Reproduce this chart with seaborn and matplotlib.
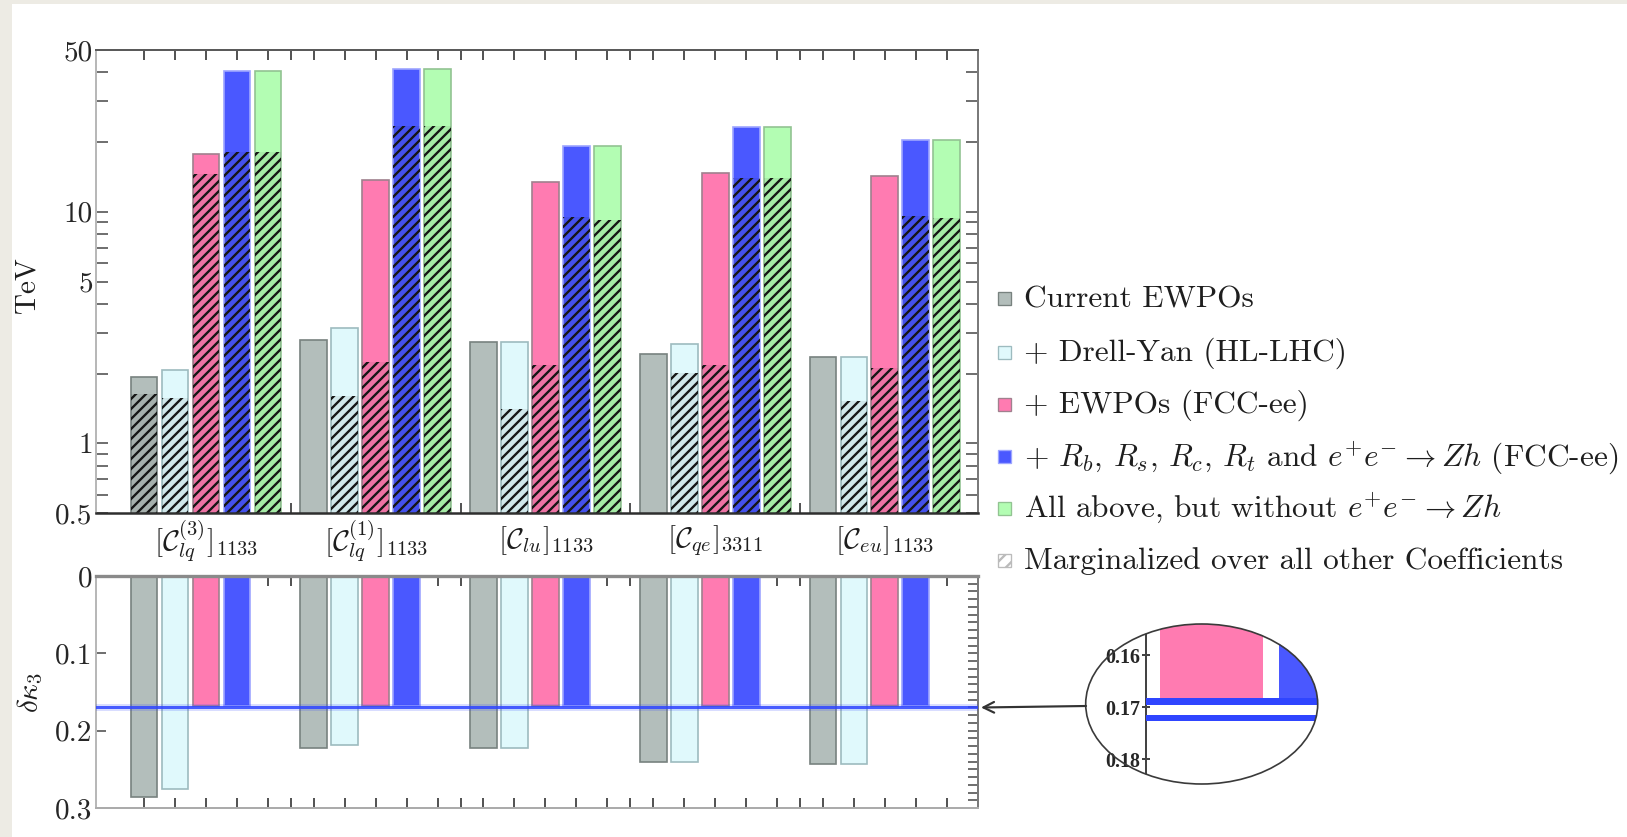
import matplotlib
matplotlib.use("Agg")
import numpy as np
import pandas as pd
import matplotlib.pyplot as plt
import matplotlib.transforms as mtransforms
from matplotlib.patches import Rectangle, Ellipse, FancyArrowPatch
from matplotlib.colors import to_rgba
import seaborn as sns

# ---------------------------------------------------------------- data
coefficients = [
    r"$[\mathcal{C}_{lq}^{(3)}]_{1133}$",
    r"$[\mathcal{C}_{lq}^{(1)}]_{1133}$",
    r"$[\mathcal{C}_{lu}]_{1133}$",
    r"$[\mathcal{C}_{qe}]_{3311}$",
    r"$[\mathcal{C}_{eu}]_{1133}$",
]
scenarios = [
    "Current EWPOs",
    "+ Drell-Yan (HL-LHC)",
    "+ EWPOs (FCC-ee)",
    r"+ $R_b$, $R_s$, $R_c$, $R_t$ and $e^{+}e^{-} \rightarrow Zh$ (FCC-ee)",
    r"All above, but without $e^{+}e^{-} \rightarrow Zh$",
]
marginal_label = "Marginalized over all other Coefficients"

colors = ["#B3BEBB", "#E0F9FC", "#FF7BB1", "#4A58FF", "#B3FDB3"]
edge_colors = ["#78827F", "#9DBBBF", "#A0808E", "#9EA6FF", "#92C392"]
band_color = "#2F45FF"

# reach in TeV, single-coefficient fits
tev_current = [1.93, 2.79, 2.73, 2.43, 2.37]
tev_drell_yan = [2.07, 3.14, 2.73, 2.69, 2.37]
tev_ewpo_fcc = [17.8, 13.7, 13.4, 14.7, 14.3]
tev_rq_zh = [40.7, 41.4, 19.3, 23.3, 20.4]
tev_no_zh = [40.7, 41.4, 19.3, 23.3, 20.4]

# reach in TeV, marginalized over the other coefficients (None: not shown)
tev_current_marg = [1.63, None, None, None, None]
tev_drell_yan_marg = [1.57, 1.60, 1.41, 2.02, 1.53]
tev_ewpo_fcc_marg = [14.5, 2.25, 2.18, 2.18, 2.12]
tev_rq_zh_marg = [18.2, 23.5, 9.5, 14.0, 9.6]
tev_no_zh_marg = [18.2, 23.5, 9.2, 14.0, 9.4]

# trilinear Higgs coupling bound delta kappa_3
dk3_current = [0.286, 0.222, 0.222, 0.241, 0.243]
dk3_drell_yan = [0.276, 0.218, 0.222, 0.241, 0.243]
dk3_ewpo_fcc = [0.1683, 0.1683, 0.1683, 0.1683, 0.1683]
dk3_rq_zh = [0.1683, 0.1683, 0.1683, 0.1683, 0.1683]
dk3_band = [(0.1683, 0.1696), (0.1714, 0.1726)]

tev_ticks = [0.5, 1, 5, 10, 50]
tev_tick_labels = ["0.5", "1", "5", "10", "50"]
dk3_ticks = [0.0, 0.1, 0.2, 0.3]
dk3_tick_labels = ["0", "0.1", "0.2", "0.3"]
inset_ticks = [0.16, 0.17, 0.18]
inset_tick_labels = ["0.16", "0.17", "0.18"]


def long_table(columns):
    rows = []
    for scen, vals in zip(scenarios, columns):
        for coef, v in zip(coefficients, vals):
            if v is not None:
                rows.append((coef, scen, v))
    return pd.DataFrame(rows, columns=["coefficient", "scenario", "value"])


df_tev = long_table([tev_current, tev_drell_yan, tev_ewpo_fcc, tev_rq_zh, tev_no_zh])
df_marg = long_table([tev_current_marg, tev_drell_yan_marg, tev_ewpo_fcc_marg,
                      tev_rq_zh_marg, tev_no_zh_marg])
df_dk3 = long_table([dk3_current, dk3_drell_yan, dk3_ewpo_fcc, dk3_rq_zh])

# ---------------------------------------------------------------- style
sns.set_theme(style="white")
plt.rcParams.update({
    "font.family": ["cmr10", "DejaVu Serif"],
    "mathtext.fontset": "cm",
    "axes.formatter.use_mathtext": True,
    "axes.unicode_minus": False,
    "hatch.linewidth": 1.4,
    "text.color": "#1e1e1e",
})

FS = 17.5
FS_LEG = 18.8
W, H, DPI = 1627, 837, 120
GROUP_W, BAR_GAP = 0.913, 0.13
SLOT = GROUP_W / len(scenarios)
X_LO, X_HI = -0.648, 4.548

fig = plt.figure(figsize=(W / DPI, H / DPI), dpi=DPI)
fig.patch.set_facecolor("#EDEBE4")
fig.add_artist(Rectangle((12 / W, 0), 1 - 12 / W, 1 - 4 / H, transform=fig.transFigure,
                         facecolor="white", edgecolor="none", zorder=-10))


def px_box(x0, y0, x1, y1):
    return [x0 / W, 1 - y1 / H, (x1 - x0) / W, (y1 - y0) / H]


ax_top = fig.add_axes(px_box(96, 50, 978, 513))
ax_bot = fig.add_axes(px_box(96, 576, 978, 808))
ax_in = fig.add_axes(px_box(1146, 624, 1317.7, 784))

bar_kw = dict(x="coefficient", y="value", hue="scenario", order=coefficients,
              hue_order=scenarios, palette=colors, width=GROUP_W, gap=BAR_GAP,
              errorbar=None, saturation=1, legend=False)


def draw_bars(ax, data, **kw):
    n0 = len(ax.patches)
    sns.barplot(data=data, ax=ax, **bar_kw, **kw)
    return ax.patches[n0:]


def color_index(patch):
    fc = np.array(patch.get_facecolor()[:3])
    dist = [np.sum((fc - np.array(to_rgba(c)[:3])) ** 2) for c in colors]
    return int(np.argmin(dist))


# ---------------------------------------------------------------- upper panel
ax_top.set_yscale("log")
for p in draw_bars(ax_top, df_tev, linewidth=1.0):
    p.set_edgecolor(edge_colors[color_index(p)])
for p in draw_bars(ax_top, df_marg, linewidth=0):
    p.set_facecolor((0, 0, 0, 0.07))
    p.set_edgecolor("#151515")
    p.set_hatch("////")

# ---------------------------------------------------------------- lower panel
for p in draw_bars(ax_bot, df_dk3, linewidth=1.0):
    p.set_edgecolor(edge_colors[color_index(p)])
ax_bot.axhspan(dk3_band[0][0], dk3_band[1][1], color=band_color, alpha=0.85, lw=0, zorder=3)
ax_bot.axhspan(dk3_band[0][0] - 0.0025, dk3_band[1][1] + 0.0025, color=band_color,
               alpha=0.18, lw=0, zorder=2.9)

# ---------------------------------------------------------------- axes styling
xticks = sorted([i + (k - 2) * SLOT for i in range(len(coefficients)) for k in range(5)]
                + [i + 0.5 for i in range(len(coefficients) - 1)])

for ax in (ax_top, ax_bot):
    ax.set_facecolor("white")
    ax.set_xlim(X_LO, X_HI)
    ax.set_xticks(xticks)
    ax.set_xticklabels([])
    ax.set_xlabel("")
    ax.set_ylabel("")
    ax.grid(False)
    ax.tick_params(axis="x", which="major", direction="in", length=6, width=1.0,
                   color="#333333", top=True, bottom=True, labelbottom=False)
    ax.spines["left"].set_color("#B8B8B8")
    ax.spines["right"].set_color("#7A7A7A")
    for s in ax.spines.values():
        s.set_linewidth(1.2)

ax_top.spines["top"].set_color("#5A5A5A")
ax_top.spines["bottom"].set_color("#2E2E2E")
ax_top.spines["bottom"].set_linewidth(1.5)
ax_bot.spines["top"].set_color("#8A8A8A")
ax_bot.spines["top"].set_linewidth(2.0)
ax_bot.spines["bottom"].set_color("#ABABAB")

ax_top.set_ylim(0.5, 50)
ax_top.set_yticks(tev_ticks)
ax_top.set_yticklabels(tev_tick_labels)
ax_top.yaxis.set_minor_locator(matplotlib.ticker.LogLocator(base=10, subs=np.arange(2, 10)))
ax_top.yaxis.set_minor_formatter(matplotlib.ticker.NullFormatter())
ax_top.tick_params(axis="y", which="both", direction="in", length=7, width=1.0,
                   color="#555555", left=True, right=True, labelsize=FS, pad=2)

ax_bot.set_ylim(0.3, 0.0)
ax_bot.set_yticks(dk3_ticks)
ax_bot.set_yticklabels(dk3_tick_labels)
ax_bot.yaxis.set_minor_locator(matplotlib.ticker.MultipleLocator(0.01))
ax_bot.tick_params(axis="y", which="major", direction="in", length=6, width=1.0,
                   color="#555555", left=True, right=True, labelsize=FS, pad=2)
ax_bot.tick_params(axis="y", which="minor", direction="in", length=6, width=1.0,
                   color="#555555", left=False, right=True)

label_tf = mtransforms.blended_transform_factory(ax_top.transData, ax_top.transAxes)
for i, coef in enumerate(coefficients):
    ax_top.text(i, -0.06, coef, transform=label_tf, ha="center", va="center", fontsize=FS)

fig.text(27 / W, 1 - 285 / H, "TeV", rotation=90, ha="center", va="center", fontsize=FS)
fig.text(30 / W, 1 - 692 / H, r"$\delta\kappa_3$", rotation=90, ha="center", va="center",
         fontsize=FS)

# ---------------------------------------------------------------- legend
legend_rows_y = [298, 352, 404, 457, 508, 560]
for i, (lab, y) in enumerate(zip(scenarios + [marginal_label], legend_rows_y)):
    if i < len(scenarios):
        fc, ec, hatch = colors[i], edge_colors[i], None
    else:
        fc, ec, hatch = "white", "#BBBBBB", "///"
    fig.add_artist(Rectangle((998 / W, 1 - (y + 6.5) / H), 13 / W, 13 / H,
                             transform=fig.transFigure, facecolor=fc, edgecolor=ec,
                             linewidth=0.8, hatch=hatch))
    fig.text(1024 / W, 1 - (y + 9) / H, lab, ha="left", va="baseline", fontsize=FS_LEG)

# ---------------------------------------------------------------- magnifier inset
df_in = df_dk3[(df_dk3["coefficient"] == coefficients[0])
               & df_dk3["scenario"].isin(scenarios[2:4])]
draw_bars(ax_in, df_in, linewidth=0)
for lo, hi in dk3_band:
    ax_in.axhspan(lo, hi, color=band_color, lw=0, zorder=3)
ax_in.set_xlim(-0.1008, 0.1634)
ax_in.set_ylim(0.18471, 0.15406)
ax_in.set_xticks([])
ax_in.set_xlabel("")
ax_in.set_ylabel("")
ax_in.set_yticks(inset_ticks)
ax_in.set_yticklabels(inset_tick_labels, fontfamily="Liberation Serif",
                      fontweight="bold", fontsize=12)
ax_in.tick_params(axis="y", direction="inout", length=5, width=1.0, color="#444444",
                  left=True, right=False, pad=1)
ax_in.patch.set_visible(False)
for side in ("top", "right", "bottom"):
    ax_in.spines[side].set_visible(False)
ax_in.spines["left"].set_color("#444444")
ax_in.spines["left"].set_linewidth(1.2)

cx, cy, ew, eh = 1201.7, 704, 232, 160
lens = Ellipse((cx / W, 1 - cy / H), ew / W, eh / H, transform=fig.transFigure)
for art in list(ax_in.patches) + list(ax_in.spines.values()):
    art.set_clip_path(lens)
for t in ax_in.yaxis.get_major_ticks():
    t.tick1line.set_clip_path(lens)
    t.label1.set_clip_path(lens)

fig.add_artist(Ellipse((cx / W, 1 - cy / H), ew / W, eh / H, transform=fig.transFigure,
                       fill=False, edgecolor="#3A3A3A", linewidth=1.0, zorder=5))
fig.add_artist(FancyArrowPatch((1086 / W, 1 - 706 / H), (981 / W, 1 - 707.5 / H),
                               transform=fig.transFigure, arrowstyle="->",
                               mutation_scale=16, linewidth=1.3, color="#333333",
                               shrinkA=0, shrinkB=0, zorder=5))

fig.savefig("out.png", dpi=DPI)
